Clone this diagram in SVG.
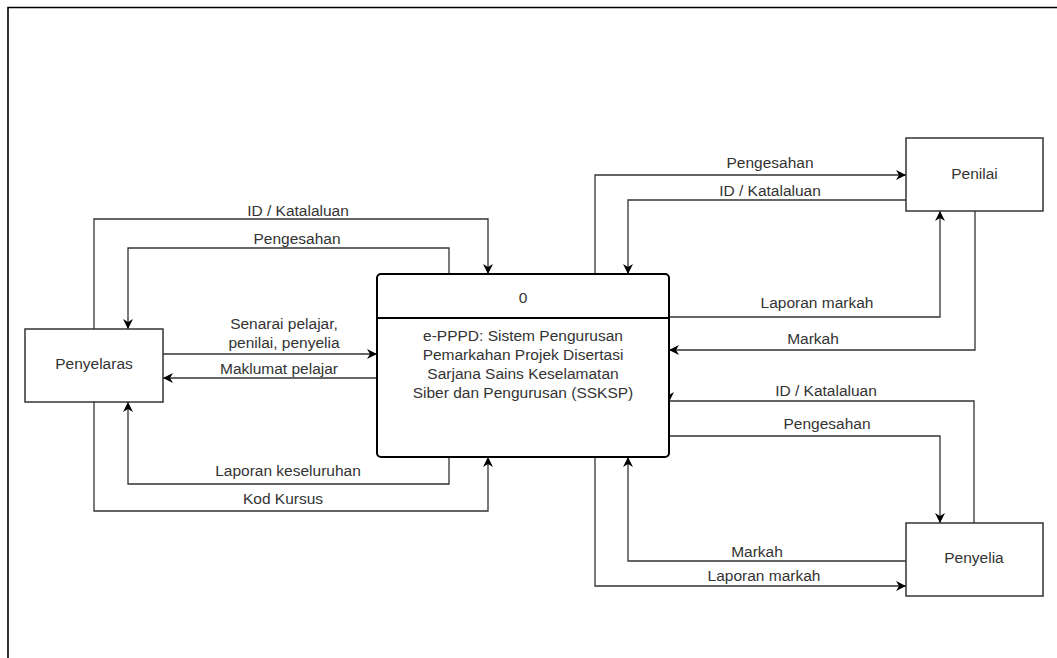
<svg xmlns="http://www.w3.org/2000/svg" width="1057" height="658" viewBox="0 0 1057 658">
<defs>
<style>
.t{font-family:"Liberation Sans",Arial,sans-serif;font-size:15.5px;fill:#333;text-anchor:middle}
.c{fill:none;stroke:#333;stroke-width:1.3;marker-end:url(#ar)}
.n{fill:#fff;stroke:#333;stroke-width:1.5}
</style>
<marker id="ar" markerUnits="userSpaceOnUse" viewBox="0 0 10 10" refX="10" refY="5" markerWidth="10" markerHeight="10" orient="auto">
<path d="M0,0 L10,5 L0,10 L3,5 z" fill="#000"/>
</marker>
</defs>
<rect width="1057" height="658" fill="#fff"/>
<path d="M8,658 V7.5 H1057" fill="none" stroke="#000" stroke-width="1.6"/>

<g id="connectors">
<path class="c" d="M94,329 V219 H488 V274"/>
<path class="c" d="M449,274 V248 H128 V329"/>
<path class="c" d="M163,354 H377"/>
<path class="c" d="M377,378 H163"/>
<path class="c" d="M449,457 V484 H128 V402"/>
<path class="c" d="M94,402 V511 H488 V457"/>
<path class="c" d="M595,274 V175 H906"/>
<path class="c" d="M906,200 H628 V274"/>
<path class="c" d="M669,317 H940 V211"/>
<path class="c" d="M975,211 V350 H669"/>
<path class="c" d="M974,523 V401 H669 V402"/>
<path class="c" d="M669,436 H940 V523"/>
<path class="c" d="M906,561 H628 V457"/>
<path class="c" d="M595,457 V586 H906"/>
<text class="t" x="298" y="216">ID / Katalaluan</text>
<text class="t" x="297" y="244">Pengesahan</text>
<text class="t" x="284" y="329">Senarai pelajar,</text>
<text class="t" x="284" y="348">penilai, penyelia</text>
<text class="t" x="279" y="374">Maklumat pelajar</text>
<text class="t" x="288" y="476">Laporan keseluruhan</text>
<text class="t" x="283" y="504">Kod Kursus</text>
<text class="t" x="770" y="168">Pengesahan</text>
<text class="t" x="770" y="196">ID / Katalaluan</text>
<text class="t" x="817" y="308">Laporan markah</text>
<text class="t" x="813" y="344">Markah</text>
<text class="t" x="826" y="396">ID / Katalaluan</text>
<text class="t" x="827" y="429">Pengesahan</text>
<text class="t" x="757" y="557">Markah</text>
<text class="t" x="764" y="581">Laporan markah</text>
</g>

<g id="penyelaras">
<rect class="n" x="25" y="329" width="138" height="73"/>
<text class="t" x="94" y="369">Penyelaras</text>
</g>

<g id="process">
<rect x="377" y="274" width="292" height="183" rx="4" fill="#fff" stroke="#000" stroke-width="2"/>
<line x1="377" y1="318" x2="669" y2="318" stroke="#000" stroke-width="2"/>
<text class="t" x="523" y="303">0</text>
<text class="t" x="523" y="341">e-PPPD: Sistem Pengurusan</text>
<text class="t" x="523" y="360">Pemarkahan Projek Disertasi</text>
<text class="t" x="523" y="379">Sarjana Sains Keselamatan</text>
<text class="t" x="523" y="398">Siber dan Pengurusan (SSKSP)</text>
</g>

<g id="penilai">
<rect class="n" x="906" y="138" width="137" height="73"/>
<text class="t" x="974.5" y="179">Penilai</text>
</g>

<g id="penyelia">
<rect class="n" x="906" y="523" width="137" height="73"/>
<text class="t" x="974" y="563">Penyelia</text>
</g>
</svg>
